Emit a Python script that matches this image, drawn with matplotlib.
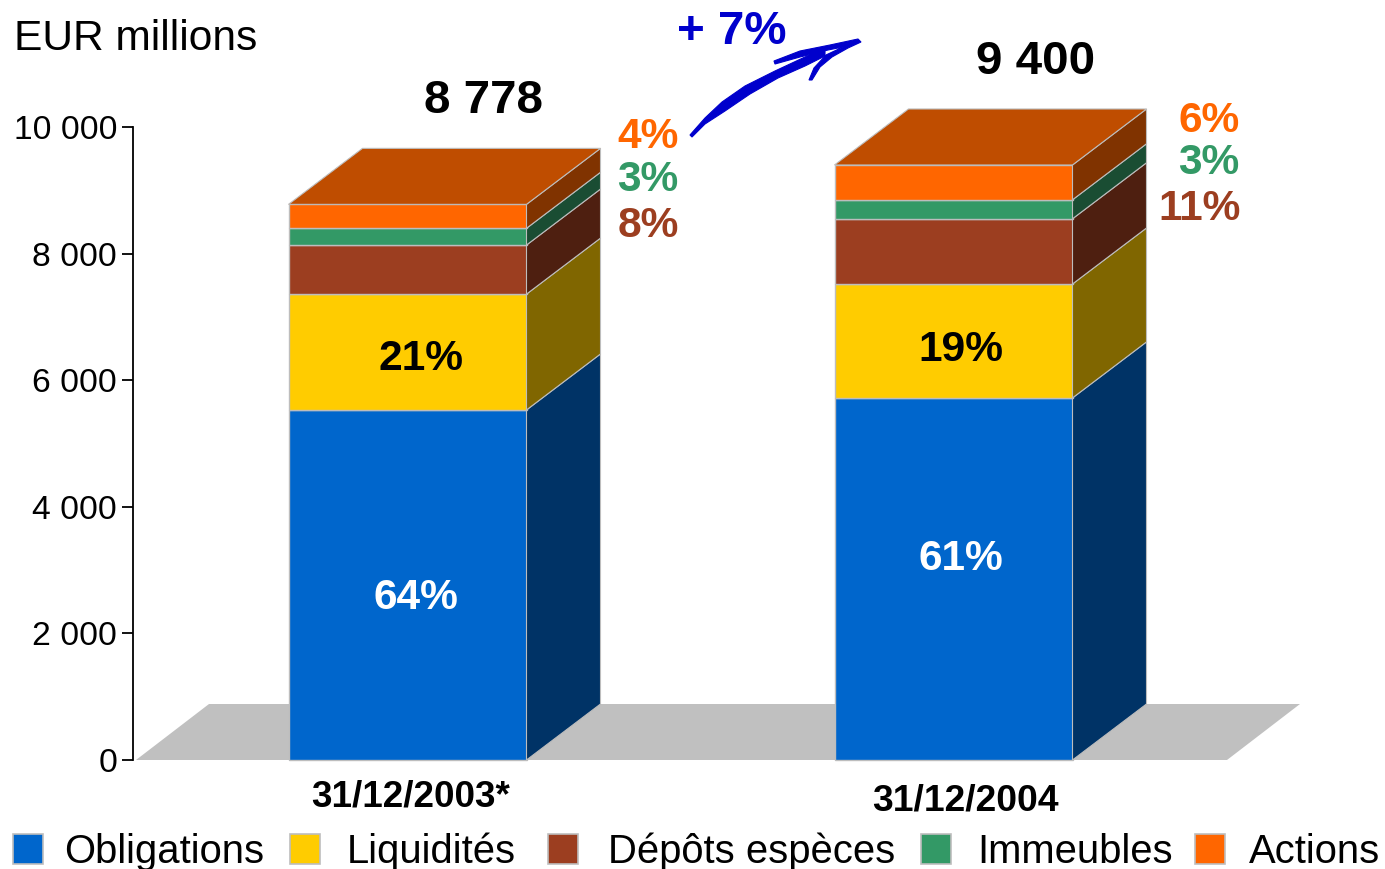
import matplotlib
matplotlib.use("Agg")
import matplotlib.pyplot as plt
from matplotlib.patches import Polygon, Rectangle, PathPatch
from matplotlib.path import Path

plt.rcParams['font.family'] = ['Liberation Sans', 'DejaVu Sans']

# ---- data ----
dates = ["31/12/2003*", "31/12/2004"]
totals = ["8 778", "9 400"]
series = ["Obligations", "Liquidités", "Dépôts espèces", "Immeubles", "Actions"]
obligations = [5530, 5720]
liquidites = [1830, 1800]
depots = [775, 1030]
immeubles = [265, 300]
actions = [378, 550]
yticks = [0, 2000, 4000, 6000, 8000, 10000]
ytick_labels = ["0", "2 000", "4 000", "6 000", "8 000", "10 000"]

# ---- style ----
W, H = 1385, 869
front = ["#0066CC", "#FFCC00", "#9C3E20", "#339966", "#FF6600"]
side = ["#003366", "#806600", "#4E1F10", "#1A4D33", "#803300"]
top_col = "#BF4D00"
edge = "#BDBDBD"
bar_left = [288.5, 834.5]
bar_w = 238
dx = 74
y0_px, y1_px = 760, 127
dy = 56 * 10000 / (y0_px - y1_px)

fig = plt.figure(figsize=(W / 100, H / 100), dpi=100)
ax = fig.add_axes([133 / W, 1 - y0_px / H, (1300 - 133) / W, (y0_px - y1_px) / H])
ax.set_xlim(133, 1300)
ax.set_ylim(0, 10000)
ax.patch.set_alpha(0)
for s in ("top", "right", "bottom"):
    ax.spines[s].set_visible(False)
ax.spines["left"].set_linewidth(1.3)
ax.set_yticks(yticks)
ax.set_yticklabels(ytick_labels, fontsize=24.2)
ax.tick_params(axis="y", length=8, width=1.3, pad=3.5)
ax.set_xticks([])

# floor
ax.add_patch(Polygon([(136, 0), (136 + 73, dy), (1300, dy), (1227, 0)],
                     closed=True, fc="#C0C0C0", ec="none", clip_on=False, zorder=1))

# stacked 3D bars
stack = [obligations, liquidites, depots, immeubles, actions]
for i, xl in enumerate(bar_left):
    bottom = 0
    for j, vals in enumerate(stack):
        v = vals[i]
        ax.bar(xl, v, width=bar_w, bottom=bottom, align="edge", color=front[j],
               edgecolor=edge, linewidth=1, zorder=3, clip_on=False)
        xr = xl + bar_w
        ax.add_patch(Polygon([(xr, bottom), (xr + dx, bottom + dy),
                              (xr + dx, bottom + v + dy), (xr, bottom + v)],
                             closed=True, fc=side[j], ec=edge, lw=0.8,
                             zorder=3, clip_on=False))
        bottom += v
    ax.add_patch(Polygon([(xl, bottom), (xl + dx, bottom + dy),
                          (xl + bar_w + dx, bottom + dy), (xl + bar_w, bottom)],
                         closed=True, fc=top_col, ec=edge, lw=0.8, zorder=3, clip_on=False))

# overlay in picture pixels for annotations
ov = fig.add_axes([0, 0, 1, 1])
ov.set_xlim(0, W)
ov.set_ylim(H, 0)
ov.axis("off")
ov.patch.set_alpha(0)


def label(x, y, s, size, color="black", weight="bold", ha="center"):
    ov.text(x, y, s, fontsize=size, color=color, fontweight=weight, ha=ha, va="center_baseline")


label(14, 34, "EUR millions", 30.6, weight="normal", ha="left")
label(483.5, 96, totals[0], 34.2)
label(1035.5, 57, totals[1], 34.2)
label(411, 793, dates[0], 26.6)
label(965, 797, dates[1], 26.8)
label(732, 27, "+ 7%", 34.2, color="#0000CC")

for x, y, s, c in [(416, 593.5, "64%", "white"), (420.5, 354.5, "21%", "black"),
                   (960.5, 554.5, "61%", "white"), (961, 345.5, "19%", "black"),
                   (648, 132.5, "4%", front[4]), (648, 175.5, "3%", front[3]), (648, 221.5, "8%", front[2]),
                   (1209, 116.5, "6%", front[4]), (1209, 158, "3%", front[3]), (1200, 204, "11%", front[2])]:
    label(x, y, s, 30.6, color=c)

# hand-drawn arrow
body = [(690, 135), (705, 118), (722, 102), (745, 86), (775, 71), (805, 57), (820, 50),
        (825, 51), (825, 56), (805, 66), (778, 78), (750, 94), (725, 111), (705, 124), (692, 137)]
head = [(774, 61), (800, 51), (830, 45), (858, 39), (861, 42), (848, 48), (832, 57), (820, 67),
        (812, 80), (809, 80), (814, 68), (826, 55), (843, 47), (828, 50), (800, 57), (775, 64)]
for pts in (body, head):
    ov.add_patch(PathPatch(Path(pts + [pts[0]], closed=True), fc="#0000CC", ec="#0000CC", lw=0.8))

# legend
swatches = [13, 290, 548, 921, 1195]
text_x = [64, 346.5, 607.5, 977.5, 1249]
for j, name in enumerate(series):
    ov.add_patch(Rectangle((swatches[j], 834), 30, 30, fc=front[j], ec=edge, lw=1.2))
    ov.text(text_x[j], 848, name, fontsize=28.8, ha="left", va="center_baseline", color="black")

fig.savefig("out.png", dpi=100)
